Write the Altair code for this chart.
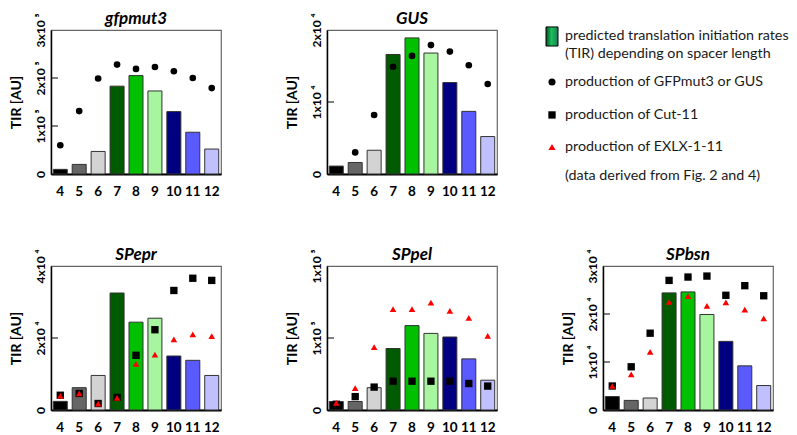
import altair as alt
import pandas as pd

spacers = [4, 5, 6, 7, 8, 9, 10, 11, 12]
bar_colors = ["#000000", "#666666", "#d3d3d3", "#005a00", "#00c000",
              "#a8f5a0", "#000080", "#5a5aff", "#c0c0ff"]

# gfpmut3
gfp_tir = [9700, 20000, 47000, 183000, 205000, 173000, 130000, 87000, 52000]
gfp_prod = [60000, 131000, 199000, 228000, 219000, 223000, 214000, 200000, 179000]
# GUS
gus_tir = [1100, 1600, 3300, 16600, 18900, 16800, 12700, 8700, 5200]
gus_prod = [None, 3000, 8200, 14900, 16400, 17900, 17000, 15100, 12500]
# SPepr
epr_tir = [2400, 6200, 9600, 32500, 24400, 25500, 15000, 13800, 9600]
epr_cut = [4100, 4600, 1800, 3500, 15200, 22300, 33200, 36600, 36000]
epr_exlx = [3900, 4600, 1800, 3400, 12800, 15400, 19600, 21000, 20500]
# SPpel
pel_tir = [5900, 5900, 15500, 42700, 58600, 53200, 50700, 35500, 20700]
pel_cut = [4000, 9300, 15900, 20000, 20000, 20000, 20000, 18400, 16600]
pel_exlx = [5000, 15200, 43600, 70000, 70000, 74500, 68900, 63900, 51400]
# SPbsn
bsn_tir = [2800, 2000, 2500, 24400, 24600, 19900, 14300, 9200, 5100]
bsn_cut = [5000, 9000, 16000, 27000, 27700, 27900, 23900, 25900, 23800]
bsn_exlx = [5000, 7400, 12100, 22500, 23700, 21700, 22400, 20900, 19100]

legend_text = ["predicted translation initiation rates",
               "(TIR) depending on spacer length",
               "production of GFPmut3 or GUS",
               "production of Cut-11",
               "production of EXLX-1-11",
               "(data derived from Fig. 2 and 4)"]

FONT = "Lato"
W, H = 170, 144


def panel(title, tir, ymax, tick_vals, tick_labels, inner, circ=None, sq=None, tri=None):
    n = len(spacers)
    df = pd.DataFrame({
        "spacer": spacers,
        "tir": tir,
        "circ": circ if circ else [None] * n,
        "sq": sq if sq else [None] * n,
        "tri": tri if tri else [None] * n,
    })
    expr = " : ".join(f"datum.value == {v} ? '{l}'" for v, l in zip(tick_vals, tick_labels)) + " : ''"
    yscale = alt.Scale(domain=[0, ymax], nice=False, zero=True)
    x = alt.X("spacer:O", title=None, sort=spacers,
              scale=alt.Scale(paddingInner=0.26, paddingOuter=0.12),
              axis=alt.Axis(labelAngle=0, ticks=False, labelPadding=10, labelFontSize=13.5,
                            labelFont=FONT, labelFontWeight="bold", labelColor="black",
                            domainColor="black", domainWidth=1.8))
    y_axis = alt.Axis(values=tick_vals, labelExpr=expr, labelAngle=270, labelAlign="center",
                      labelBaseline="bottom", ticks=False, grid=False, labelPadding=4,
                      labelFontSize=12, labelFont=FONT, labelFontWeight="bold", labelColor="black",
                      titleFont=FONT, titleFontWeight="bold", titleFontSize=14, titleColor="black",
                      titlePadding=11, domainColor="black", domainWidth=1.5)
    base = alt.Chart(df)
    bars = base.mark_bar(stroke="#333333", strokeWidth=1).encode(
        x=x,
        y=alt.Y("tir:Q", title="TIR [AU]", scale=yscale, axis=y_axis),
        color=alt.Color("spacer:O", scale=alt.Scale(domain=spacers, range=bar_colors), legend=None),
    )
    layers = [bars]
    rules = alt.Chart(pd.DataFrame({"tir": inner})).mark_rule(color="black", strokeWidth=1).encode(
        y=alt.Y("tir:Q", title="TIR [AU]", scale=yscale), x=alt.value(0), x2=alt.value(7))
    layers.append(rules)
    if circ:
        layers.append(base.mark_point(shape="circle", filled=True, color="black", opacity=1, size=44).encode(
            x=alt.X("spacer:O", sort=spacers), y=alt.Y("circ:Q", title="TIR [AU]", scale=yscale)))
    if sq:
        layers.append(base.mark_point(shape="square", filled=True, color="black", opacity=1, size=54).encode(
            x=alt.X("spacer:O", sort=spacers), y=alt.Y("sq:Q", title="TIR [AU]", scale=yscale)))
    if tri:
        layers.append(base.mark_point(shape="triangle-up", filled=True, color="#ff0000", opacity=1, size=44).encode(
            x=alt.X("spacer:O", sort=spacers), y=alt.Y("tri:Q", title="TIR [AU]", scale=yscale)))
    return alt.layer(*layers).properties(
        width=W, height=H,
        title=alt.TitleParams(title, font=FONT, fontStyle="italic", fontWeight="bold",
                              fontSize=17, offset=-15, frame="group", color="black"),
        view=alt.ViewBackground(stroke="#666666", strokeWidth=1.2),
    )


p1 = panel("gfpmut3", gfp_tir, 300000, [0, 100000, 200000, 300000],
           ["0", "1x10 \u2075", "2x10 \u2075", "3x10 \u2075"], [100000, 200000], circ=gfp_prod)
p2 = panel("GUS", gus_tir, 20000, [0, 10000, 20000],
           ["0", "1x10 \u2074", "2x10 \u2074"], [10000], circ=gus_prod)
p3 = panel("SPepr", epr_tir, 40000, [0, 20000, 40000],
           ["0", "2x10 \u2074", "4x10 \u2074"], [20000], sq=epr_cut, tri=epr_exlx)
p4 = panel("SPpel", pel_tir, 100000, [0, 50000, 100000],
           ["0", "1x10 \u2075", "1x10 \u2075"], [50000], sq=pel_cut, tri=pel_exlx)
p5 = panel("SPbsn", bsn_tir, 30000, [0, 10000, 20000, 30000],
           ["0", "1x10 \u2074", "2x10 \u2074", "3x10 \u2074"], [10000, 20000], sq=bsn_cut, tri=bsn_exlx)

# legend panel (sits in the third grid column; its content reaches left of the cell)
slots = [0.33, 1.33, 2.89, 4.72, 6.5, 8.11]
leg_df = pd.DataFrame({"txt": legend_text, "slot": slots, "col": [-3.8] * 6})
lx = alt.Scale(domain=[0, 17], nice=False, zero=False)
ly = alt.Scale(domain=[0, H / 18], nice=False, reverse=True)
texts = alt.Chart(leg_df).mark_text(align="left", baseline="middle", font=FONT, fontSize=14.3,
                                    color="#1a1a1a").encode(
    x=alt.X("col:Q", scale=lx, axis=None), y=alt.Y("slot:Q", scale=ly, axis=None), text="txt:N")
sym_df = pd.DataFrame({"slot": [2.89, 4.72, 6.5], "col": [-5.1, -5.1, -5.1],
                       "shape": ["circle", "square", "triangle-up"],
                       "clr": ["black", "black", "#ff0000"], "sz": [50, 54, 50]})
syms = alt.Chart(sym_df).mark_point(filled=True, opacity=1).encode(
    x=alt.X("col:Q", scale=lx, axis=None), y=alt.Y("slot:Q", scale=ly, axis=None),
    shape=alt.Shape("shape:N", scale=None), color=alt.Color("clr:N", scale=None),
    size=alt.Size("sz:Q", scale=None))
grad_df = pd.DataFrame({"x1": [-5.7], "x2": [-4.5], "y1": [-0.17], "y2": [0.89]})
grad = alt.Chart(grad_df).mark_rect(
    stroke="black", strokeWidth=1,
    fill=alt.Gradient(gradient="linear", x1=0, x2=1, y1=0, y2=0,
                      stops=[alt.GradientStop(color="#0b4f22", offset=0),
                             alt.GradientStop(color="#16c25a", offset=0.45),
                             alt.GradientStop(color="#1f7a5a", offset=1)])).encode(
    x=alt.X("x1:Q", scale=lx, axis=None), x2="x2:Q",
    y=alt.Y("y1:Q", scale=ly, axis=None), y2="y2:Q")
legend = alt.layer(grad, syms, texts).properties(
    width=W, height=H, view=alt.ViewBackground(strokeOpacity=0))

chart = alt.concat(p1, p2, legend, p3, p4, p5, columns=3,
                   spacing={"row": 92, "column": 106}, bounds="flush").properties(
    padding={"left": 0, "top": 1, "right": 0, "bottom": 0}, background="white")

chart.save("out.html", embed_options={"renderer": "svg", "actions": False})
